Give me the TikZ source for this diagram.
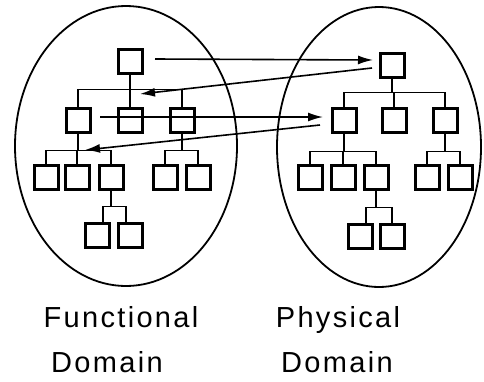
\documentclass[tikz,border=0pt]{standalone}
\usepackage{fontspec}
\setmainfont{Liberation Sans}[LetterSpace=8]
\usetikzlibrary{arrows.meta}
\begin{document}
\begin{tikzpicture}[x=1pt,y=-1pt,
  blk/.style={draw,line width=3pt,minimum size=24pt,inner sep=0pt,fill=white},
  link/.style={line width=1.2pt},
  dom/.style={line width=1.8pt},
  map/.style={line width=1.6pt,-{Latex[length=15pt,width=9pt]}},
  lbl/.style={font=\fontsize{29}{34}\selectfont,inner sep=0pt,anchor=base}]
\useasboundingbox (0,0) rectangle (484,381);
% domain boundaries
\draw[dom] (126,146) ellipse [x radius=111,y radius=140];
\draw[dom] (379,147) ellipse [x radius=102,y radius=140];
% functional hierarchy
\node[blk] (f0) at (130,61) {};
\node[blk] (f1) at (78,120) {};
\node[blk] (f2) at (130,120) {};
\node[blk] (f3) at (182,120) {};
\node[blk] (f11) at (46,177) {};
\node[blk] (f12) at (77,177) {};
\node[blk] (f13) at (111,177) {};
\node[blk] (f31) at (165,177) {};
\node[blk] (f32) at (198,177) {};
\node[blk] (f131) at (97,235) {};
\node[blk] (f132) at (130,235) {};
\foreach \c in {f1,f2,f3} \draw[link] (f0.south) -- ++(0,15) -| (\c.north);
\foreach \c in {f11,f12,f13} \draw[link] (f1.south) -- ++(0,17) -| (\c.north);
\foreach \c in {f31,f32} \draw[link] (f3.south) -- ++(0,17) -| (\c.north);
\draw[link] (f13.south) -- ++(0,16) -| ([xshift=6pt]f131.north);
\draw[link] (f13.south) -- ++(0,16) -| ([xshift=-4pt]f132.north);
% physical hierarchy
\node[blk] (p0) at (392,65) {};
\node[blk] (p1) at (344,120) {};
\node[blk] (p2) at (394,120) {};
\node[blk] (p3) at (445,120) {};
\node[blk] (p11) at (310,177) {};
\node[blk] (p12) at (343,177) {};
\node[blk] (p13) at (376,177) {};
\node[blk] (p31) at (427,177) {};
\node[blk] (p32) at (460,177) {};
\node[blk] (p131) at (360,236) {};
\node[blk] (p132) at (392,236) {};
\foreach \c in {p1,p2,p3} \draw[link] (p0.south) -- ++(0,14) -| (\c.north);
\foreach \c in {p11,p12,p13} \draw[link] (p1.south) -- ++(0,18) -| (\c.north);
\foreach \c in {p31,p32} \draw[link] (p3.south) -- ++(0,18) -| (\c.north);
\draw[link] (p13.south) -- ++(0,17) -| ([xshift=6pt]p131.north);
\draw[link] (p13.south) -- ++(0,17) -| (p132.north);
% zigzag mapping between the domains
\coordinate (a1s) at (155,59);
\coordinate (a1e) at (373,60);
\coordinate (a2s) at (372,68);
\coordinate (a2e) at (140,94);
\coordinate (a3s) at (100,117);
\coordinate (a3e) at (323,117);
\coordinate (a4s) at (320,125);
\coordinate (a4e) at (85,150);
\draw[map] (a1s) -- (a1e);
\draw[map] (a2s) -- (a2e);
\draw[map] (a3s) -- (a3e);
\draw[map] (a4s) -- (a4e);
% captions
\node[lbl] (t1) at (121,327) {Functional};
\node[lbl] (t2) at (107,372) {Domain};
\node[lbl] (t3) at (338,327) {Physical};
\node[lbl] (t4) at (337,372) {Domain};
\end{tikzpicture}
\end{document}
